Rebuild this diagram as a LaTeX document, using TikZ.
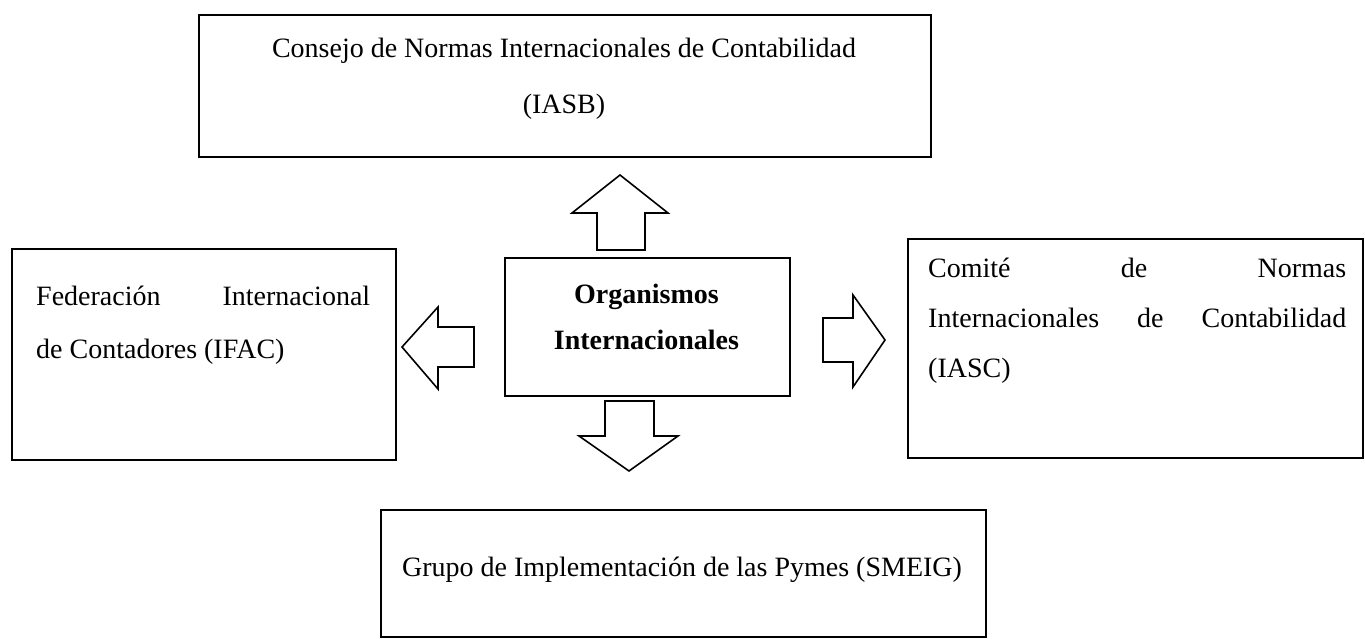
\documentclass[tikz,border=0pt]{standalone}
\usepackage{fontspec}
\setmainfont{Liberation Serif}
\begin{document}
\begin{tikzpicture}[x=1pt,y=-1pt,
  box/.style={draw, line width=2pt, inner sep=0pt, anchor=north west},
  blk/.style={draw, line width=1.6pt, fill=white, line join=miter},
  txt/.style={inner sep=0pt, font=\fontsize{28}{56}\selectfont},
  btxt/.style={inner sep=0pt, font=\fontsize{28}{46}\selectfont\bfseries}]
\useasboundingbox (0,0) rectangle (1365,639);
% boxes
\node[box, minimum width=732pt, minimum height=142pt] (iasb) at (198,14) {};
\node[box, minimum width=384pt, minimum height=211pt] (ifac) at (11,248) {};
\node[box, minimum width=285pt, minimum height=138pt] (org) at (504,257) {};
\node[box, minimum width=455pt, minimum height=219pt] (iasc) at (907,238) {};
\node[box, minimum width=605pt, minimum height=127pt] (smeig) at (380,509) {};
% texts
\node[txt, anchor=base] (t1) at (564,58) {Consejo de Normas Internacionales de Contabilidad};
\node[txt, anchor=base] (t2) at (564,114) {(IASB)};
\node[txt, anchor=base west] (l1) at (36,305) {\makebox[334pt][s]{Federación Internacional}};
\node[txt, anchor=base west] (l2) at (36,358) {de Contadores (IFAC)};
\node[btxt, anchor=base] (c1) at (646.5,303) {Organismos};
\node[btxt, anchor=base] (c2) at (646.5,349) {Internacionales};
\node[txt, anchor=base west] (r1) at (928,277) {\makebox[418pt][s]{Comité de Normas}};
\node[txt, anchor=base west] (r2) at (928,327) {\makebox[418pt][s]{Internacionales de Contabilidad}};
\node[txt, anchor=base west] (r3) at (928,377) {(IASC)};
\node[txt, anchor=base] (b1) at (682,576) {Grupo de Implementación de las Pymes (SMEIG)};
% block arrows
\draw[blk] (597,250) -- (597,213) -- (572,213) -- (620,175) -- (668,213) -- (645,213) -- (645,250) -- cycle;
\draw[blk] (474,327) -- (438,327) -- (438,307) -- (402,347) -- (438,389) -- (438,367) -- (474,367) -- cycle;
\draw[blk] (823,318) -- (853,318) -- (853,295) -- (885,340) -- (853,387) -- (853,362) -- (823,362) -- cycle;
\draw[blk] (605,401) -- (654,401) -- (654,436) -- (678,436) -- (629,471) -- (579,436) -- (605,436) -- cycle;
\end{tikzpicture}
\end{document}
